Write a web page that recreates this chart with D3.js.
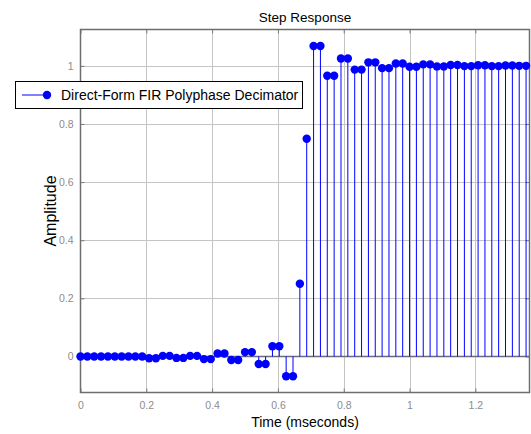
<!DOCTYPE html>
<html>
<head>
<meta charset="utf-8">
<script src="https://cdn.jsdelivr.net/npm/d3@7"></script>
<style>
	body { margin: 0; background: #fff; }
	svg { display: block; font-family: "Liberation Sans", Arial, sans-serif; }
</style>
</head>
<body>
<div id="container"></div>
<script>
// sample period is 1/48 ms (48 kHz output rate)
const sampleIndex = d3.range(66);
const amplitude = [
	0, 0, 0, 0, 0, 0, 0, 0, 0, 0,
	-0.006, -0.006, 0.002, 0.002, -0.005, -0.005, 0.002, 0.002, -0.009, -0.009,
	0.010, 0.010, -0.012, -0.012, 0.015, 0.015, -0.026, -0.026, 0.035, 0.035,
	-0.068, -0.068, 0.25, 0.749, 1.068, 1.068, 0.966, 0.966, 1.025, 1.025,
	0.987, 0.987, 1.012, 1.012, 0.992, 0.992, 1.008, 1.008, 0.997, 0.997,
	1.005, 1.005, 0.998, 0.998, 1.003, 1.003, 0.999, 0.999, 1.002, 1.002,
	0.999, 0.999, 1.001, 1.001, 1.0, 1.0
];
const xTicks = [0, 0.2, 0.4, 0.6, 0.8, 1, 1.2];
const yTicks = [0, 0.2, 0.4, 0.6, 0.8, 1];
const titleText = "Step Response";
const xLabel = "Time (mseconds)";
const yLabel = "Amplitude";
const legendLabel = "Direct-Form FIR Polyphase Decimator";

window.addEventListener("load", () => drawChart());

function drawChart() {
	const width = 531;
	const height = 434;
	const margin = { top: 29.5, right: 1.5, bottom: 41.5, left: 80.5 };

	const data = sampleIndex.map((n, i) => ({ t: n / 48, value: amplitude[i] }));

	const svg = d3
		.select("#container")
		.append("svg")
		.attr("width", width)
		.attr("height", height);

	const x = d3
		.scaleLinear()
		.domain([0, 65.5 / 48])
		.range([margin.left, width - margin.right]);

	const y = d3
		.scaleLinear()
		.domain([-0.124, 1.125])
		.range([height - margin.bottom, margin.top]);

	const x0 = margin.left, x1 = width - margin.right;
	const y0 = height - margin.bottom, y1 = margin.top;

	// grid
	const grid = svg.append("g").attr("stroke", "#c4c4c4").attr("stroke-width", 1);
	grid.selectAll(".gx")
		.data(xTicks.filter((d) => d > 0))
		.enter()
		.append("line")
		.attr("x1", (d) => Math.round(x(d)) + 0.5)
		.attr("x2", (d) => Math.round(x(d)) + 0.5)
		.attr("y1", y1)
		.attr("y2", y0);
	grid.selectAll(".gy")
		.data(yTicks)
		.enter()
		.append("line")
		.attr("x1", x0)
		.attr("x2", x1)
		.attr("y1", (d) => Math.round(y(d)) + 0.5)
		.attr("y2", (d) => Math.round(y(d)) + 0.5);

	// axes (ticks inward, MATLAB style)
	const tickColor = "#7a7a7a";
	const fmt = (d) => d3.format("~g")(d);

	const xAxis = svg.append("g")
		.attr("transform", `translate(0, ${y0})`)
		.call(d3.axisBottom(x).tickValues(xTicks).tickFormat(fmt).tickSize(-4).tickSizeOuter(0).tickPadding(9));
	const xAxisTop = svg.append("g")
		.attr("transform", `translate(0, ${y1})`)
		.call(d3.axisTop(x).tickValues(xTicks).tickFormat("").tickSize(-4).tickSizeOuter(0));
	const yAxis = svg.append("g")
		.attr("transform", `translate(${x0}, 0)`)
		.call(d3.axisLeft(y).tickValues(yTicks).tickFormat(fmt).tickSize(-4).tickSizeOuter(0).tickPadding(7));
	const yAxisRight = svg.append("g")
		.attr("transform", `translate(${x1}, 0)`)
		.call(d3.axisRight(y).tickValues(yTicks).tickFormat("").tickSize(-4).tickSizeOuter(0));

	[xAxis, xAxisTop, yAxis, yAxisRight].forEach((a) => {
		a.select(".domain").remove();
		a.selectAll(".tick line").attr("stroke", tickColor);
		a.selectAll(".tick text")
			.attr("fill", "#8c8c8c")
			.style("font-family", "'Liberation Sans', Arial, sans-serif")
			.style("font-size", "10.5px");
	});

	// axes box
	svg.append("rect")
		.attr("x", x0)
		.attr("y", y1)
		.attr("width", x1 - x0)
		.attr("height", y0 - y1)
		.attr("fill", "none")
		.attr("stroke", "#6e6e6e")
		.attr("stroke-width", 1.5);

	// stem baseline
	svg.append("line")
		.attr("x1", x0)
		.attr("x2", x1)
		.attr("y1", y(0))
		.attr("y2", y(0))
		.attr("stroke", "#6a6a80")
		.attr("stroke-width", 1.5);

	// stems
	svg.append("g")
		.attr("class", "stems")
		.selectAll("line")
		.data(data)
		.enter()
		.append("line")
		.attr("x1", (d) => x(d.t))
		.attr("x2", (d) => x(d.t))
		.attr("y1", y(0))
		.attr("y2", (d) => y(d.value))
		.attr("stroke", "#0000ff")
		.attr("stroke-width", 1);

	// markers
	svg.append("g")
		.attr("class", "dots")
		.selectAll("circle")
		.data(data)
		.enter()
		.append("circle")
		.attr("cx", (d) => x(d.t))
		.attr("cy", (d) => y(d.value))
		.attr("r", 4.2)
		.attr("fill", "#0000ff");

	// title and labels
	svg.append("text")
		.attr("x", (x0 + x1) / 2)
		.attr("y", 22)
		.attr("text-anchor", "middle")
		.style("font-size", "13.5px")
		.text(titleText);

	svg.append("text")
		.attr("x", (x0 + x1) / 2)
		.attr("y", 427)
		.attr("text-anchor", "middle")
		.style("font-size", "14px")
		.text(xLabel);

	svg.append("text")
		.attr("transform", `translate(55.5, ${(y0 + y1) / 2}) rotate(-90)`)
		.attr("text-anchor", "middle")
		.style("font-size", "16px")
		.text(yLabel);

	// legend
	const legend = svg.append("g").attr("class", "legend");
	legend.append("rect")
		.attr("x", 15.5)
		.attr("y", 81.5)
		.attr("width", 287)
		.attr("height", 27)
		.attr("fill", "#fff")
		.attr("stroke", "#000")
		.attr("stroke-width", 1);
	legend.append("line")
		.attr("x1", 22)
		.attr("x2", 47)
		.attr("y1", 95)
		.attr("y2", 95)
		.attr("stroke", "#0000ff");
	legend.append("circle")
		.attr("cx", 47)
		.attr("cy", 95)
		.attr("r", 4.2)
		.attr("fill", "#0000ff");
	legend.append("text")
		.attr("x", 61)
		.attr("y", 100)
		.style("font-size", "14px")
		.text(legendLabel);
}
</script>
</body>
</html>
